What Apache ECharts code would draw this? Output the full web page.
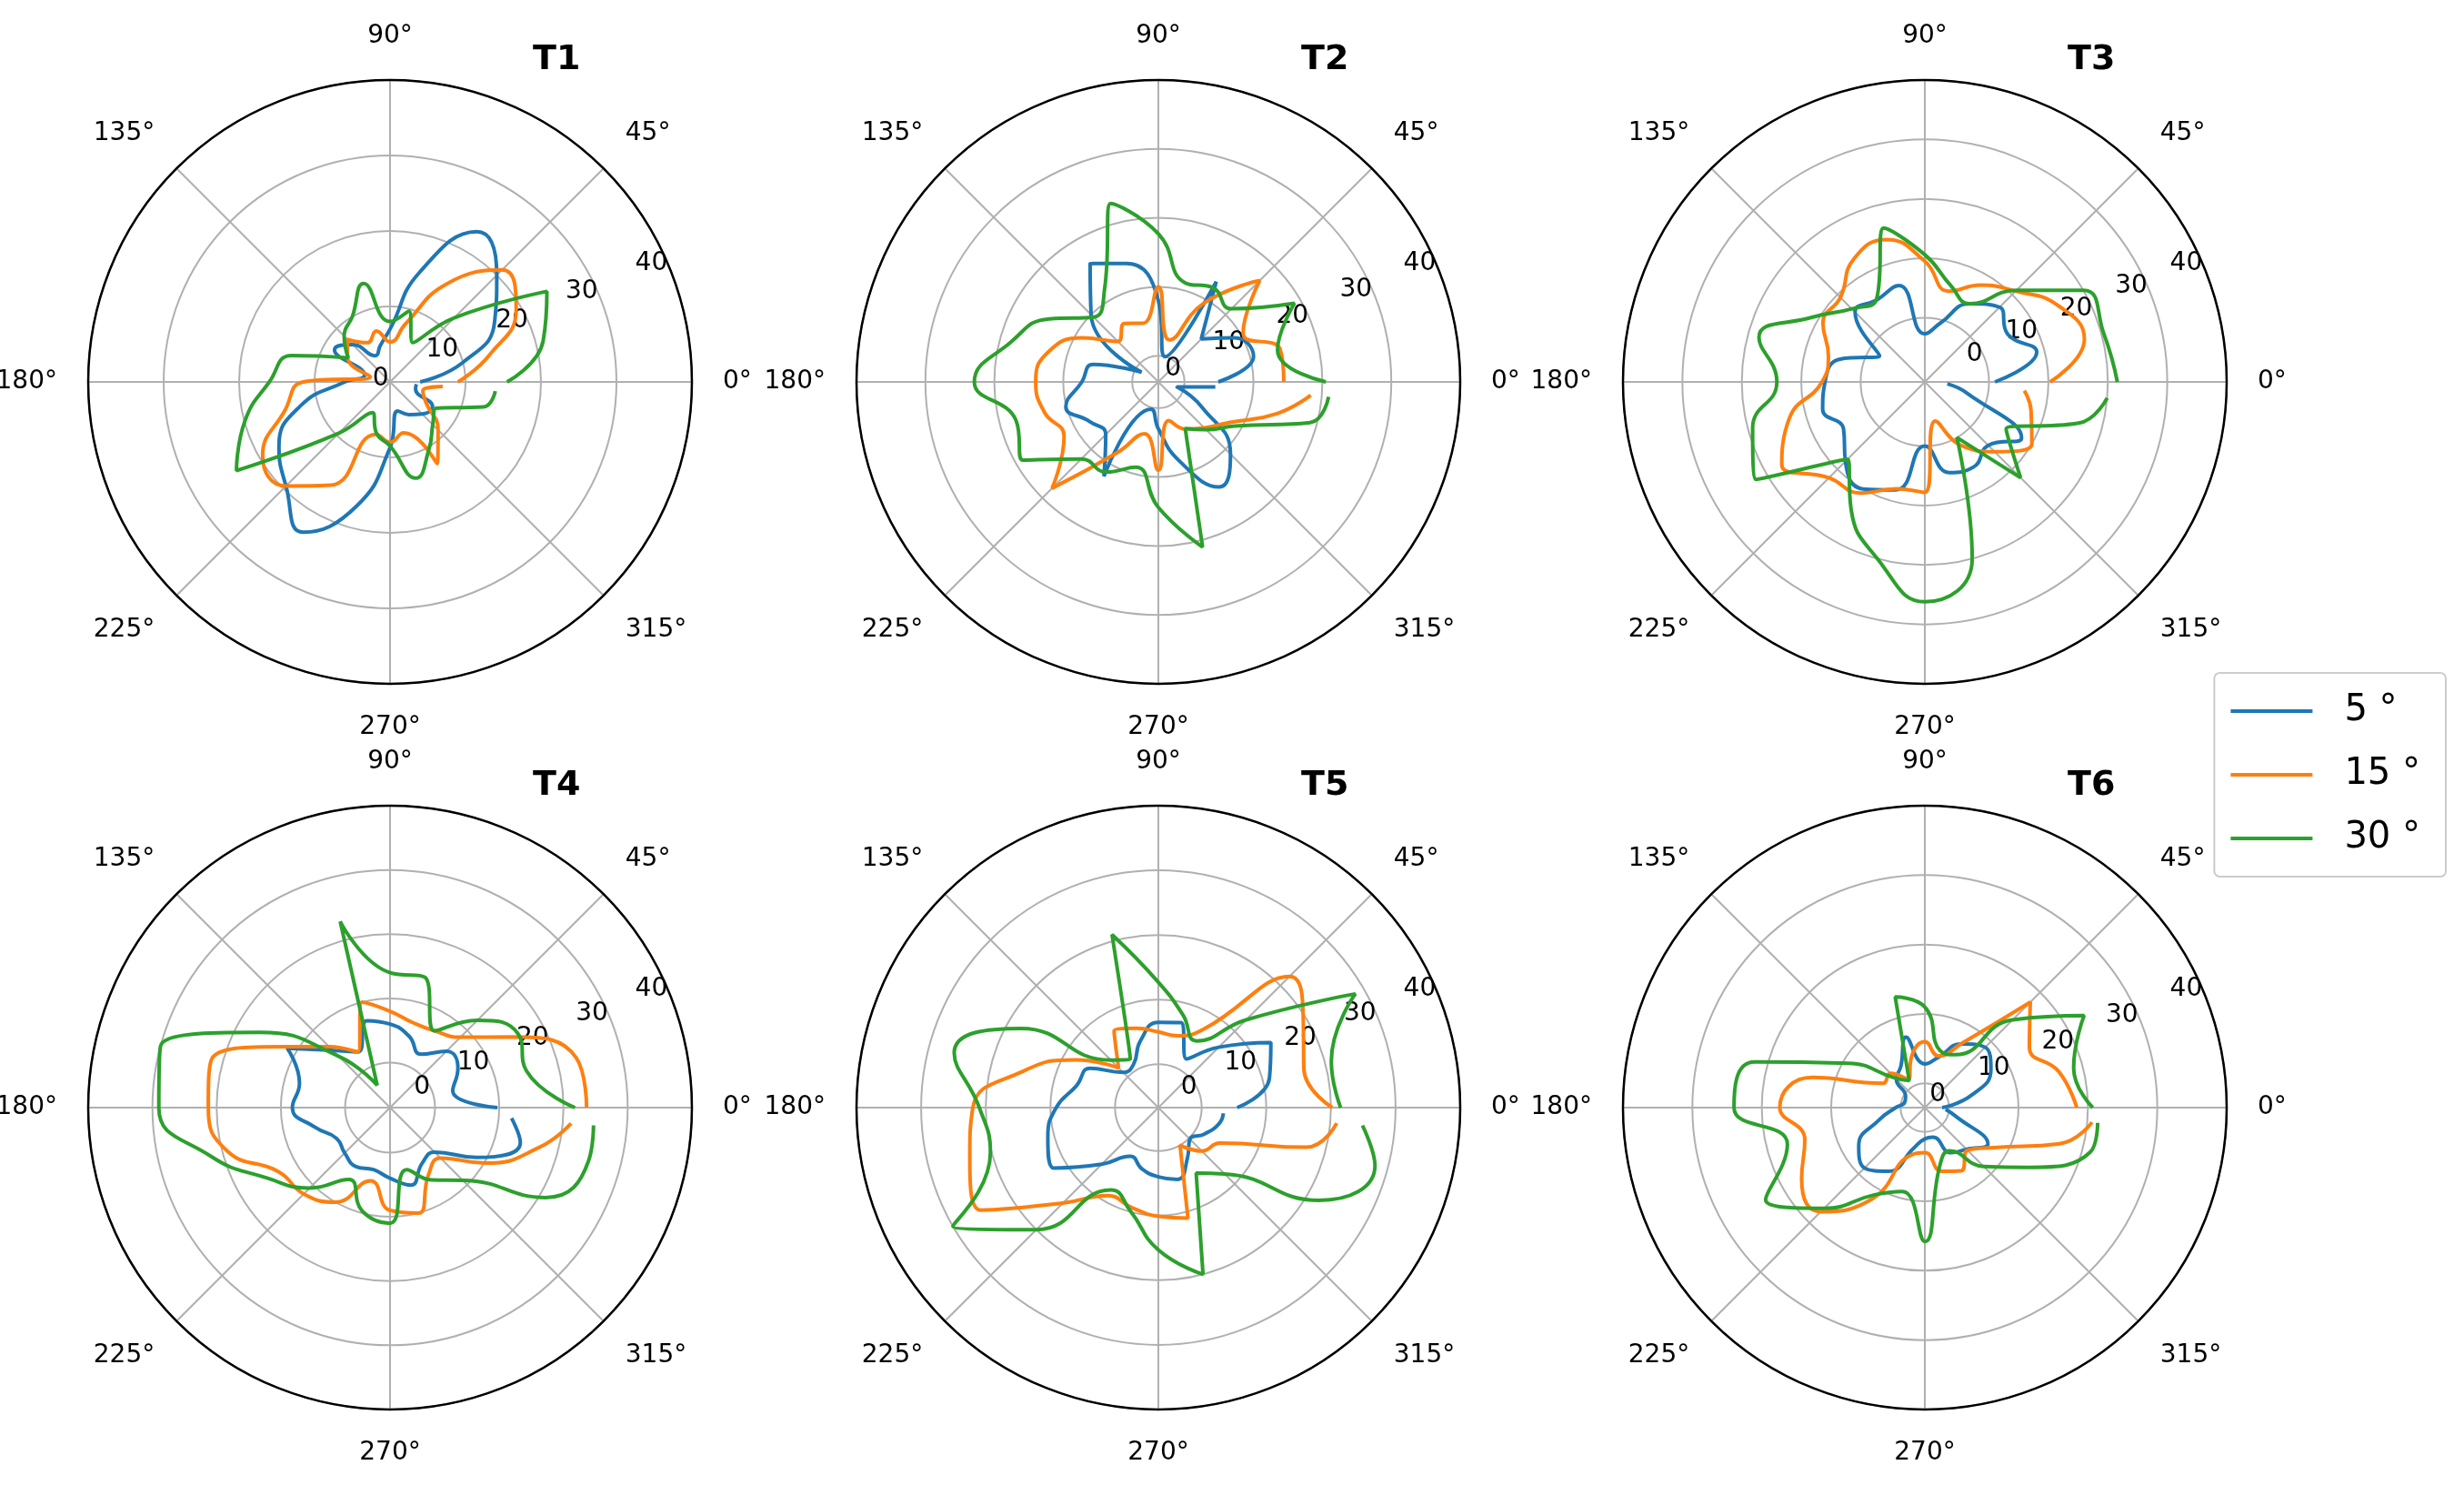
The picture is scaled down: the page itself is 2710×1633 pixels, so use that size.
<!DOCTYPE html>
<html>
<head>
<meta charset="utf-8">
<script src="https://cdn.jsdelivr.net/npm/echarts@6/dist/echarts.min.js"></script>
<style>
  html, body { margin: 0; padding: 0; background: #fff; }
  #chart { width: 2710px; height: 1633px; }
</style>
</head>
<body>
<div id="chart"></div>
<script>
// 角度 (度)，最后一点不闭合
const angles = [0, 15, 30, 45, 60, 75, 90, 105, 120, 135, 150, 165, 180,
  195, 210, 225, 240, 255, 270, 285, 300, 315, 330, 345, 355];

const seriesNames = ['5 °', '15 °', '30 °'];
const colors = ['#1f77b4', '#ff7f0e', '#2ca02c'];
const titles = ['T1', 'T2', 'T3', 'T4', 'T5', 'T6'];
const radiusMin = [0, -3.8, -10.8, -7, -6.7, -3.5];
const radiusMax = 40;

const t1Blue = [4, 10, 16, 20, 23, 15, 7, 5, 4, 7, 8.5, 3.5, 6, 12.3, 17, 19.5, 23, 17, 8.7, 4, 5, 6, 6.5, 3.5, 3.5];
const t1Orange = [9, 13.6, 19.3, 21, 15, 8, 5.3, 7, 6, 8, 6.5, 2.7, 11.5, 14.4, 19.5, 19.5, 15.8, 7.2, 8, 7, 12.5, 9, 5.5, 4.5, 7];
const t1Green = [15.5, 21, 24, 12, 6, 9.7, 8, 13.5, 10, 8.6, 6.4, 13.5, 16, 19.9, 23.5, 9.6, 4.7, 7, 8.5, 13.2, 10.3, 8, 7, 12.8, 14];

const t2Blue = [4.9, 10.5, 9, 5, 13, 0, 8, 14, 16, 10, -1, 6, 7.3, 10.1, 7.7, 7, 12, 0.3, 3, 8.1, 13.8, 11, 3.5, -1, 4.5];
const t2Orange = [14.4, 14.5, 10.4, 17, 9.4, 2.5, 10, 5, 6, 4.5, 9, 12.8, 14, 13.3, 12, 18, 8, 4, 9, 2, 4.1, 5.6, 8, 14, 18.4];
const t2Green = [20.5, 14.1, 19, 11.2, 12, 11.1, 17.7, 23, 11.8, 9.5, 14.5, 18.4, 22.9, 17.6, 18.9, 12, 11.3, 9, 14.4, 21, 4, 6, 9, 19, 21];

const t3Blue = [1, 8.7, 5.3, 7, 4.4, -0.5, -2.7, 6, 5.2, 5.8, -2, 4, 6, 7, 5, 8.1, 10, 8, 0, 5, 5.7, 4.3, 8, -3.4, -7];
const t3Orange = [10.3, 17, 15, 10.8, 8, 5, 9.5, 14, 13.1, 9.3, 9, 6, 6.5, 12.8, 17, 12, 10.8, 7.8, 7.8, -4, 1.6, 5.8, 10, 7.7, 6];
const t3Green = [21.6, 20.4, 20, 11, 4.4, 6, 10.6, 16, 5.4, 6.6, 11, 18.1, 14.1, 19.2, 22, 7.6, 14, 20, 26.2, 20, 0, 12, 5, 16, 20];

const t4Blue = [9.7, 3.1, 5.2, 5.4, 2.6, 4.5, 6, 7, 3, 5.6, 11.5, 7.6, 8.2, 5, 2.6, 3, 3.6, 3, 4, 5.5, 3, 2.8, 8.5, 14, 12];
const t4Orange = [23.6, 23, 15, 8.5, 6.8, 6.7, 8, 10, 3, 6.4, 12, 21.8, 21.3, 19.2, 13, 12, 10, 4.8, 9, 10, 5, 4.1, 10.3, 17, 21.3];
const t4Green = [21.8, 15, 16, 12.2, 6.8, 14, 14, 23, -3, 4.3, 16.4, 30, 29, 22, 15, 10.7, 5.9, 9.7, 11, 3, 6, 9, 21, 25, 24.8];

const t5Blue = [5.5, 11.1, 13.4, 6.5, 2, 6.9, 6.5, 4, 1, 1, 5.5, 6.4, 9.1, 11, 12, 5.7, 2, 3.1, 4, 4.8, 2.3, 0.2, 1.5, 3, 3.4];
const t5Orange = [20.2, 16.6, 19.2, 22, 7.3, 4.8, 5, 6, 7, 2, 8.1, 15, 22, 23.5, 25, 14.2, 9, 9.3, 10.1, 11, 0, 2.8, 4.3, 17, 21];
const t5Green = [21.5, 21, 28.5, 12.5, 5.2, 8.1, 12.7, 21, 2, 3.7, 17.8, 26, 21, 20.2, 30, 20, 8, 9.9, 15.3, 20, 5, 7.8, 22, 28, 25];

const t6Blue = [-1, 3.5, 7.5, 8.8, 7.1, 4, 2.8, 7, 3.4, 2.3, -0.3, -0.5, 0.7, 3.3, 7.5, 8.8, 7.1, 2.5, 1, 0.9, 4, 5, 7, 1, -0.5];
const t6Orange = [18.4, 16.5, 13.9, 18, 7.2, 4.2, 6, 4, 1.2, 3.5, 3.5, 13.3, 17.4, 14.4, 17, 17.7, 11.7, 3.5, 3, 6, 7, 5.2, 8, 16.6, 20.7];
const t6Green = [20.7, 18.7, 23, 14.4, 5.3, 5, 11, 13, 1, 2.5, 9.3, 21.9, 24, 17, 23, 17, 11, 9, 15.8, 5, 3.7, 8.5, 13.7, 21.2, 21.5];

const panels = [
  [t1Blue, t1Orange, t1Green],
  [t2Blue, t2Orange, t2Green],
  [t3Blue, t3Orange, t3Green],
  [t4Blue, t4Orange, t4Green],
  [t5Blue, t5Orange, t5Green],
  [t6Blue, t6Orange, t6Green],
];

const centers = [[429, 420], [1274, 420], [2117, 420], [429, 1218], [1274, 1218], [2117, 1218]];
const R = 332;
const font = 'DejaVu Sans';
const gridStyle = { color: '#b0b0b0', width: 2 };

let polar = [], angleAxis = [], radiusAxis = [], series = [], title = [];

panels.forEach((p, i) => {
  const c = centers[i];
  const mn = radiusMin[i];
  // 0 刻度所在的半径 (像素)
  const r0 = R * (0 - mn) / (radiusMax - mn);

  // 数据坐标系：放径向线 + 角度标签
  polar.push({ center: c, radius: [0, R] });
  angleAxis.push({
    polarIndex: 2 * i, type: 'value', min: 0, max: 360, interval: 45,
    startAngle: 0, clockwise: false,
    axisLine: { lineStyle: { color: '#000', width: 2.5 } },
    axisTick: { show: false },
    axisLabel: {
      margin: 34, fontSize: 28, color: '#000', fontFamily: font,
      formatter: v => (v === 360 ? '' : v + '°'),
    },
    splitLine: { show: true, lineStyle: gridStyle },
    z: 1,
  });
  radiusAxis.push({
    polarIndex: 2 * i, type: 'value', min: mn, max: radiusMax,
    axisLine: { show: false }, axisTick: { show: false }, axisLabel: { show: false },
    splitLine: { show: false },
  });

  // 刻度坐标系：环形，从 0 开始，圆环网格 + 22.5° 方向的刻度标签
  polar.push({ center: c, radius: [r0, R] });
  angleAxis.push({
    polarIndex: 2 * i + 1, type: 'value', min: 0, max: 360, startAngle: 22.5,
    clockwise: false, axisLine: { show: false }, axisTick: { show: false },
    axisLabel: { show: false }, splitLine: { show: false },
  });
  radiusAxis.push({
    polarIndex: 2 * i + 1, type: 'value', min: 0, max: radiusMax, interval: 10,
    axisLine: { show: false }, axisTick: { show: false },
    splitLine: { show: true, lineStyle: gridStyle },
    axisLabel: { fontSize: 28, color: '#000', fontFamily: font, margin: 4 },
    z: 1,
  });

  p.forEach((vals, k) => {
    series.push({
      name: seriesNames[k], type: 'line', coordinateSystem: 'polar', polarIndex: 2 * i,
      data: vals.map((v, j) => [v, angles[j]]),
      showSymbol: false, symbol: 'none', smooth: 0.5,
      lineStyle: { color: colors[k], width: 4 }, itemStyle: { color: colors[k] },
      animation: false, z: 3,
    });
  });

  title.push({
    text: titles[i], left: c[0] + 152, top: c[1] - 378,
    textStyle: { fontSize: 38, fontWeight: 'bold', color: '#000', fontFamily: font },
  });
});

const chart = echarts.init(document.getElementById('chart'));
chart.setOption({
  backgroundColor: '#fff',
  animation: false,
  title,
  polar, angleAxis, radiusAxis, series,
  legend: {
    data: seriesNames, orient: 'vertical', right: 20, top: 740,
    itemWidth: 90, itemHeight: 4, itemGap: 30, padding: [22, 28, 22, 18],
    borderColor: '#ccc', borderWidth: 2, borderRadius: 6,
    icon: 'rect',
    textStyle: { fontSize: 40, color: '#000', fontFamily: font, padding: [0, 0, 0, 30] },
  },
});
</script>
</body>
</html>
